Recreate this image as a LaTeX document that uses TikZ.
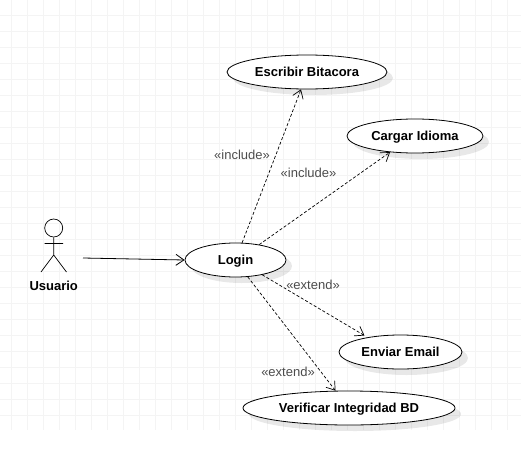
\documentclass[tikz,border=0pt]{standalone}
\usepackage{fontspec}
\setmainfont{Liberation Sans}
\usetikzlibrary{arrows.meta,shapes.geometric,shadows}
\definecolor{gridline}{gray}{0.955}
\definecolor{stereo}{gray}{0.3}
\tikzset{
  usecase/.style={ellipse,draw,fill=white,line width=.8pt,inner sep=0pt,text height=9.5pt,text depth=0pt,
    font=\bfseries\fontsize{13}{15}\selectfont,
    drop shadow={shadow xshift=6pt,shadow yshift=-6pt,fill=black,opacity=.09}},
  stereotype/.style={text=stereo,font=\fontsize{13}{15}\selectfont,inner sep=0pt},
  dep/.style={densely dashed,line width=.7pt,-{Straight Barb[length=8pt,width=11pt]}}
}
\begin{document}
\begin{tikzpicture}[x=1pt,y=-1pt]
  \useasboundingbox (0,0) rectangle (521,460);
  \foreach \gx in {11.5,27.5,...,508} \draw[gridline,line width=.7pt] (\gx,0) -- (\gx,430);
  \foreach \gy in {15,31,...,415} \draw[gridline,line width=.7pt] (0,\gy) -- (521,\gy);

  \node[usecase,minimum width=160pt,minimum height=34pt] (escribir) at (307,72) {Escribir Bitacora};
  \node[usecase,minimum width=136pt,minimum height=34pt] (cargar) at (415,136) {Cargar Idioma};
  \node[usecase,minimum width=101pt,minimum height=34pt] (login) at (235.5,260) {Login};
  \node[usecase,minimum width=123pt,minimum height=34pt] (enviar) at (400.5,352) {Enviar Email};
  \node[usecase,minimum width=212pt,minimum height=34pt] (verificar) at (349,408) {Verificar Integridad BD};

  % actor
  \node[circle,draw,line width=.7pt,minimum size=18pt,inner sep=0pt] (head) at (53.7,228) {};
  \coordinate (hip) at (53.7,255);
  \coordinate (handl) at (44.7,243.5);
  \coordinate (handr) at (63,243.5);
  \coordinate (footl) at (41,272);
  \coordinate (footr) at (66.5,272);
  \draw[line width=.7pt] (head.south) -- (hip) (handl) -- (handr) (footl) -- (hip) -- (footr);
  \node[inner sep=0pt,font=\bfseries\fontsize{13}{15}\selectfont] (usuario) at (53.7,285.5) {Usuario};

  \coordinate (start) at (83,258);
  \draw[line width=.8pt,-{Straight Barb[length=8pt,width=11pt]}] (start) -- (login.west);

  \draw[dep] (login.69) -- (escribir.251);
  \draw[dep] (login.33) -- (cargar.213);
  \draw[dep,shorten >=3.5pt] (login.-29) -- (enviar.156);
  \draw[dep] (login.-54) -- (verificar.128);

  \node[stereotype] (inc1) at (242,155) {«include»};
  \node[stereotype] (inc2) at (308.5,173) {«include»};
  \node[stereotype] (ext1) at (313,285) {«extend»};
  \node[stereotype] (ext2) at (288,372) {«extend»};
\end{tikzpicture}
\end{document}
